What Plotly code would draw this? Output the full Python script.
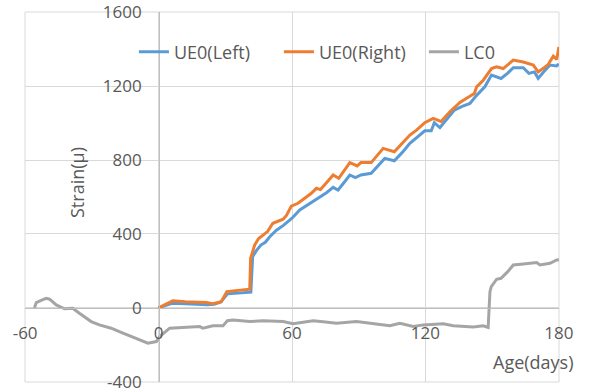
import plotly.graph_objects as go

# ---- data ----
left_days = [0, 6, 12, 18, 22, 25, 28, 31, 41.5, 42.3, 44, 46, 48, 50, 53, 56, 60, 63.5, 66.5, 69.5,
             72.5, 75.5, 78.5, 80.7, 83.5, 86, 88.5, 91, 95.6, 98.5, 101.7, 106, 109.5, 113, 116.5,
             119.7, 122.6, 124, 126.5, 129, 133, 136.5, 140, 143, 146.7, 149.7, 152, 154, 157, 159.5,
             164, 166.5, 169, 170.7, 173, 176, 179, 180]
left_vals = [0, 25, 22, 18, 17, 20, 32, 76, 85, 277, 310, 340, 355, 385, 420, 445, 485, 530, 553, 575,
             598, 623, 652, 638, 680, 719, 705, 719, 728, 765, 809, 796, 840, 890, 925,
             958, 958, 1002, 976, 1010, 1070, 1090, 1106, 1150, 1196, 1260, 1250, 1241, 1270, 1300,
             1300, 1269, 1277, 1242, 1275, 1314, 1309, 1320]

right_days = [0, 6.4, 12, 18, 21.5, 24.4, 28.2, 30.7, 41, 41.4, 43.2, 45, 47, 49, 51.4, 54, 56, 57.5,
              59.7, 62.7, 65.7, 68.7, 71, 72.8, 75.5, 78.5, 81, 86, 89.3, 91, 95.6, 101, 106, 113,
              116, 119.7, 123.5, 127, 131, 135.5, 138.5, 142, 143, 144.5, 146, 149.7, 152, 155,
              159.5, 164, 168.5, 170.7, 175, 177.5, 179, 180]
right_vals = [0, 38, 33, 30, 29, 22, 34, 88, 101, 268, 340, 375, 395, 413, 458, 470, 480, 500,
              551, 566, 592, 620, 647, 640, 677, 719, 701, 786, 768, 786, 786, 863, 845, 935,
              962, 1002, 1025, 1009, 1061, 1112, 1134, 1160, 1196, 1214, 1232, 1295, 1304, 1295,
              1341, 1330, 1314, 1277, 1314, 1362, 1344, 1412]

lc_days = [-55.8, -55, -52, -50.5, -49, -46, -42.3, -38.6, -35.6, -30.3, -26.6, -21.3, -16, -10,
           -4.8, -1, 0.5, 5, 12.5, 18.5, 20, 24.4, 29, 31, 33.5, 41, 47, 56, 60.5, 69.5, 74, 80,
           89, 96, 104, 108.5, 114.5, 119, 128, 132.5, 141.5, 146, 148.2, 149, 149.6, 152, 154,
           157, 159.5, 164, 170, 171.5, 176, 179, 180]
lc_vals = [0, 29, 45, 52, 47, 16, -5, -2, -29, -74, -92, -110, -137, -164,
           -191, -182, -155, -110, -106, -101, -110, -97, -97, -69, -65, -74, -69, -74, -86, -70, -75, -83,
           -74, -83, -97, -83, -101, -92, -86, -97, -104, -97, -106, 88, 115, 155, 160,
           196, 232, 238, 245, 232, 241, 259, 260]

series_names = ["UE0(Left)", "UE0(Right)", "LC0"]
x_ticks = [-60, 0, 60, 120, 180]
y_ticks = [-400, 0, 400, 800, 1200, 1600]

FONT = "Open Sans"
TXT = "#595959"
GRID = "#d9d9d9"

fig = go.Figure()
fig.add_trace(go.Scatter(x=left_days, y=left_vals, mode="lines", name=series_names[0],
                         line=dict(color="#5B9BD5", width=3)))
fig.add_trace(go.Scatter(x=right_days, y=right_vals, mode="lines", name=series_names[1],
                         line=dict(color="#ED7D31", width=3)))
fig.add_trace(go.Scatter(x=lc_days, y=lc_vals, mode="lines", name=series_names[2],
                         line=dict(color="#A5A5A5", width=3)))

fig.update_layout(
    width=589, height=389,
    margin=dict(l=25, r=30, t=12, b=7, autoexpand=False),
    paper_bgcolor="white", plot_bgcolor="white",
    font=dict(family=FONT, color=TXT, size=17),
    showlegend=True,
    legend=dict(orientation="h", x=0.204, y=0.892, xanchor="left", yanchor="middle",
                bgcolor="rgba(0,0,0,0)", font=dict(size=18, color=TXT, family=FONT),
                entrywidthmode="pixels", entrywidth=100,
                itemwidth=30, tracegroupgap=0),
    xaxis=dict(range=[-60.05, 180.05], tickvals=x_ticks, ticktext=[str(v) for v in x_ticks],
               showgrid=True, gridcolor=GRID, gridwidth=1,
               zeroline=False, showline=True, linecolor="#bfbfbf", linewidth=1,
               anchor="free", position=0.2, ticks="", ticklabelstandoff=10,
               ticklabeloverflow="allow", automargin=False,
               tickfont=dict(size=17, color=TXT, family=FONT)),
    yaxis=dict(range=[-401, 1601], tickvals=y_ticks, ticktext=[str(v) for v in y_ticks],
               showgrid=True, gridcolor=GRID, gridwidth=1,
               zeroline=False, showline=True, linecolor="#bfbfbf", linewidth=1,
               anchor="free", position=0.251, ticks="", ticklabelstandoff=14,
               ticklabeloverflow="allow", automargin=False,
               tickfont=dict(size=17, color=TXT, family=FONT)),
    shapes=[dict(type="rect", xref="paper", yref="paper", x0=0, x1=1, y0=0, y1=1,
                 line=dict(color=GRID, width=1), layer="below")],
    annotations=[
        dict(text="Strain(μ)", x=0.097, y=0.54, xref="paper", yref="paper", textangle=-90,
             showarrow=False, font=dict(size=18, color=TXT, family=FONT),
             xanchor="center", yanchor="middle"),
        dict(text="Age(days)", x=0.953, y=0.054, xref="paper", yref="paper",
             showarrow=False, font=dict(size=18, color=TXT, family=FONT),
             xanchor="center", yanchor="middle"),
    ],
)

fig.write_html("out.html")
